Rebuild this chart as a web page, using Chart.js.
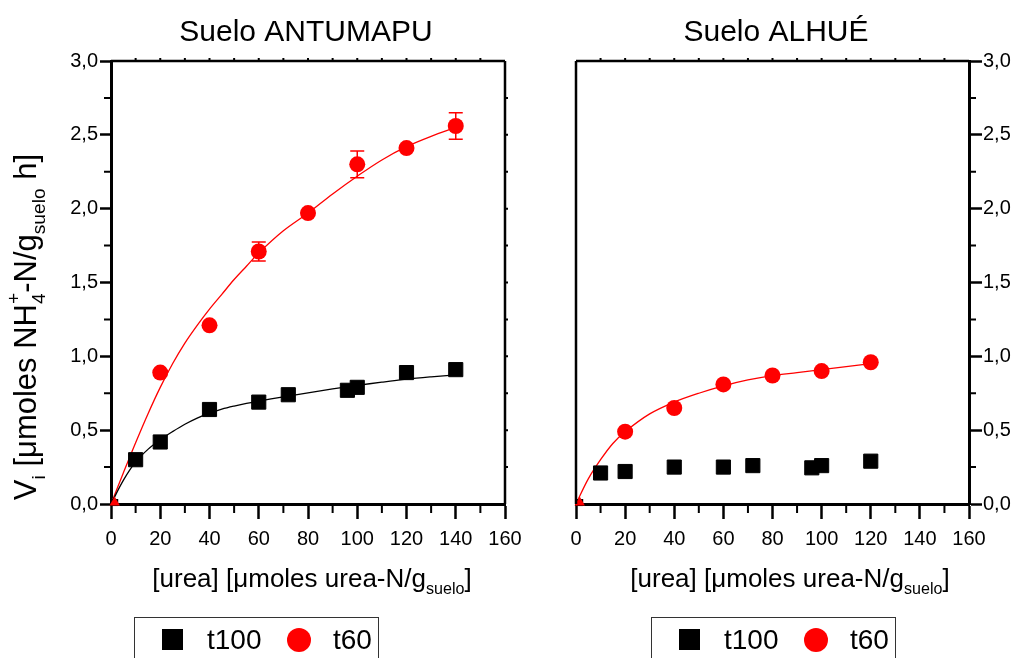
<!DOCTYPE html>
<html><head><meta charset="utf-8">
<script src="https://cdn.jsdelivr.net/npm/chart.js@4.4.1/dist/chart.umd.min.js"></script>
<style>
html,body{margin:0;padding:0;background:#fff;width:1015px;height:658px;overflow:hidden}
canvas{position:absolute;top:0}
#c1{left:0}
#c2{left:545px}
</style></head><body>
<canvas id="c1" width="545" height="658"></canvas>
<canvas id="c2" width="470" height="658"></canvas>
<script>
// ---------- data ----------
const panelTitles = ['Suelo ANTUMAPU', 'Suelo ALHUÉ'];
const seriesNames = ['t100', 't60'];
const xMin = 0, xMax = 160, xStep = 20;
const yMin = 0, yMax = 3, yStep = 0.5;

// Suelo ANTUMAPU
const antUreaT100 = [10, 20, 40, 60, 72, 96, 100, 120, 140];
const antVT100    = [0.30, 0.42, 0.64, 0.69, 0.74, 0.77, 0.79, 0.89, 0.91];
const antUreaT60  = [20, 40, 60, 80, 100, 120, 140];
const antVT60     = [0.89, 1.21, 1.71, 1.97, 2.30, 2.41, 2.56];
const antErrT60   = [0, 0, 0.065, 0, 0.09, 0, 0.09];
const antFitUrea  = [0, 5, 10, 15, 20, 25, 30, 35, 40, 45, 50, 55, 60, 70, 80, 90, 100, 110, 120, 130, 140];
const antFitT100  = [0, 0.16, 0.285, 0.37, 0.435, 0.49, 0.54, 0.582, 0.615, 0.642, 0.663, 0.681, 0.697, 0.726, 0.753, 0.779, 0.803, 0.825, 0.845, 0.861, 0.875];
const antFitT60   = [0, 0.21, 0.415, 0.61, 0.79, 0.95, 1.09, 1.21, 1.32, 1.42, 1.52, 1.61, 1.70, 1.85, 1.97, 2.10, 2.22, 2.33, 2.42, 2.49, 2.55];

// Suelo ALHUÉ
const alhUreaT100 = [10, 20, 40, 60, 72, 96, 100, 120];
const alhVT100    = [0.21, 0.22, 0.25, 0.25, 0.26, 0.245, 0.26, 0.29];
const alhUreaT60  = [20, 40, 60, 80, 100, 120];
const alhVT60     = [0.49, 0.65, 0.81, 0.87, 0.90, 0.96];
const alhFitUrea  = [0, 5, 10, 15, 20, 30, 40, 50, 60, 70, 80, 90, 100, 110, 120];
const alhFitT60   = [0, 0.17, 0.30, 0.41, 0.49, 0.61, 0.69, 0.75, 0.80, 0.84, 0.87, 0.89, 0.91, 0.93, 0.95];

// origin markers
const originUrea = [1.5];
const originV    = [0.01];

// ---------- helpers ----------
const FAM = '"Liberation Sans", Arial, sans-serif';
const RED = '#ff0000';
const zip = (xs, ys) => xs.map((x, i) => ({x, y: ys[i]}));

function layoutRich(ctx, parts, size) {
  let x = 0, prevStart = 0, prevW = 0; const items = [];
  for (const [t, k, ov] of parts) {
    const fs = k ? size * 0.62 : size;
    ctx.font = `${fs}px ${FAM}`;
    const w = ctx.measureText(t).width;
    const sx = ov ? prevStart : x;
    const dy = k === 1 ? size * 0.28 : k === 2 ? -size * 0.52 : 0;
    items.push({t, fs, sx, dy});
    if (ov) { x = prevStart + Math.max(prevW, w); }
    else { prevStart = x; prevW = w; x += w; }
  }
  return {items, width: x};
}
function drawRich(ctx, parts, size, cx, baseY) {
  const L = layoutRich(ctx, parts, size);
  const x0 = cx - L.width / 2;
  ctx.textAlign = 'left'; ctx.textBaseline = 'alphabetic'; ctx.fillStyle = '#000';
  for (const it of L.items) {
    ctx.font = `${it.fs}px ${FAM}`;
    ctx.fillText(it.t, x0 + it.sx, baseY + it.dy);
  }
}

const xTitleParts = [['[urea] [μmoles urea-N/g', 0], ['suelo', 1], [']', 0]];
const yTitleParts = [['V', 0], ['i', 1], [' [μmoles NH', 0], ['4', 1], ['+', 2, true], ['-N/g', 0], ['suelo', 1], [' h]', 0]];

const decoPlugin = {
  id: 'deco',
  afterDatasetsDraw(chart, args, o) {
    const {ctx, scales: {x, y}} = chart;
    ctx.save();
    ctx.strokeStyle = RED; ctx.lineWidth = 1.5;
    for (const e of o.errors) {
      if (!e.e) continue;
      const px = x.getPixelForValue(e.x);
      const p1 = y.getPixelForValue(e.y + e.e), p2 = y.getPixelForValue(e.y - e.e);
      ctx.beginPath();
      ctx.moveTo(px, p1); ctx.lineTo(px, p2);
      ctx.moveTo(px - 7, p1); ctx.lineTo(px + 7, p1);
      ctx.moveTo(px - 7, p2); ctx.lineTo(px + 7, p2);
      ctx.stroke();
    }
    ctx.restore();
  },
  afterDraw(chart, args, o) {
    const {ctx, chartArea: a, scales: {x, y}} = chart;
    ctx.save();
    ctx.strokeStyle = '#000';
    // frame
    ctx.lineWidth = 2.5;
    ctx.beginPath();
    ctx.moveTo(a.left, a.top); ctx.lineTo(a.right, a.top);
    if (o.side === 'left') { ctx.moveTo(a.right, a.top); ctx.lineTo(a.right, a.bottom); }
    else { ctx.moveTo(a.left, a.top); ctx.lineTo(a.left, a.bottom); }
    ctx.stroke();
    // minor x ticks (bottom) and small top ticks
    ctx.lineWidth = 2;
    ctx.beginPath();
    for (let v = xMin + xStep / 2; v < xMax; v += xStep) {
      const px = x.getPixelForValue(v);
      ctx.moveTo(px, a.bottom); ctx.lineTo(px, a.bottom + 9);
    }
    for (let v = xMin + xStep / 2; v < xMax; v += xStep / 2) {
      const px = x.getPixelForValue(v);
      ctx.moveTo(px, a.top); ctx.lineTo(px, a.top - 3);
    }
    // minor y ticks
    for (let v = yMin + yStep / 2; v < yMax; v += yStep) {
      const py = y.getPixelForValue(v);
      if (o.side === 'left') { ctx.moveTo(a.left, py); ctx.lineTo(a.left - 7, py); }
      else { ctx.moveTo(a.right, py); ctx.lineTo(a.right + 7, py); }
    }
    if (o.side === 'left') {
      for (let v = yMin + yStep / 2; v < yMax; v += yStep / 2) {
        const py = y.getPixelForValue(v);
        ctx.moveTo(a.right, py); ctx.lineTo(a.right + 3, py);
      }
    }
    ctx.stroke();
    // titles
    ctx.fillStyle = '#000'; ctx.textBaseline = 'alphabetic'; ctx.textAlign = 'center';
    ctx.font = `30px ${FAM}`;
    ctx.fillText(o.title, o.titleX, 41);
    drawRich(ctx, xTitleParts, 26, o.xTitleX, 587);
    if (o.yTitle) {
      ctx.save();
      ctx.translate(36, 327);
      ctx.rotate(-Math.PI / 2);
      drawRich(ctx, yTitleParts, 31, 0, 0);
      ctx.restore();
    }
    // legend box
    const lx = o.legendX, ly = 617;
    ctx.lineWidth = 1; ctx.strokeStyle = '#333';
    ctx.strokeRect(lx + 0.5, ly + 0.5, 244, 60);
    ctx.fillStyle = '#000';
    ctx.fillRect(lx + 28, ly + 12, 21, 21);
    ctx.font = `28px ${FAM}`; ctx.textAlign = 'left';
    ctx.fillText(seriesNames[0], lx + 73, ly + 32);
    ctx.fillStyle = RED;
    ctx.beginPath(); ctx.arc(lx + 165, ly + 23, 12, 0, Math.PI * 2); ctx.fill();
    ctx.fillStyle = '#000';
    ctx.fillText(seriesNames[1], lx + 199, ly + 32);
    ctx.restore();
  }
};

function tickY(v) { return v.toFixed(1).replace('.', ','); }

function makePanel(id, cfg) {
  const datasets = [
    {label: 'origin', data: zip(originUrea, originV), pointStyle: 'triangle', pointRadius: 6,
     backgroundColor: RED, borderColor: RED, borderWidth: 0, showLine: false, clip: false, order: 0},
    {label: 'origin0', data: zip(originUrea, originV), pointStyle: 'rect', pointRadius: 5,
     backgroundColor: '#000', borderColor: '#000', borderWidth: 0, showLine: false, clip: false, order: 1},
    {label: seriesNames[1], data: cfg.t60, pointStyle: 'circle', pointRadius: 8,
     backgroundColor: RED, borderColor: RED, borderWidth: 0, showLine: false, clip: false, order: 2},
    {label: seriesNames[0], data: cfg.t100, pointStyle: 'rect', pointRadius: 10,
     backgroundColor: '#000', borderColor: '#000', borderWidth: 1, showLine: false, clip: false, order: 3},
  ];
  cfg.fits.forEach((f, i) => datasets.push({
    label: 'fit' + i, data: f.data, showLine: true, pointRadius: 0, borderColor: f.color,
    borderWidth: 1.3, tension: 0.35, fill: false, order: 10 + i
  }));
  return new Chart(document.getElementById(id), {
    type: 'scatter',
    data: {datasets},
    plugins: [decoPlugin],
    options: {
      responsive: false, animation: false, events: [],
      layout: {padding: cfg.padding},
      plugins: {legend: {display: false}, tooltip: {enabled: false}, title: {display: false},
        deco: cfg.deco},
      scales: {
        x: {type: 'linear', position: 'bottom', min: xMin, max: xMax,
          afterFit: s => { s.height = 154; },
          ticks: {stepSize: xStep, autoSkip: false, maxRotation: 0, padding: 8, color: '#000',
            font: {family: FAM, size: 20}, callback: v => String(v)},
          grid: {drawOnChartArea: false, drawTicks: true, tickLength: 15, tickWidth: 2.5, tickColor: '#000'},
          border: {display: true, width: 3, color: '#000'}},
        y: {type: 'linear', position: cfg.yPos, min: yMin, max: yMax,
          afterFit: s => { s.width = cfg.yWidth; },
          ticks: {stepSize: yStep, autoSkip: false, padding: cfg.yPad, color: '#000',
            font: {family: FAM, size: 20}, callback: v => tickY(v)},
          grid: {drawOnChartArea: false, drawTicks: true, tickLength: cfg.yTick, tickWidth: 2.5, tickColor: '#000'},
          border: {display: true, width: 3, color: '#000'}}
      }
    }
  });
}

makePanel('c1', {
  t100: zip(antUreaT100, antVT100),
  t60: zip(antUreaT60, antVT60),
  fits: [{data: zip(antFitUrea, antFitT100), color: '#000'}, {data: zip(antFitUrea, antFitT60), color: RED}],
  padding: {left: 0, top: 61, right: 40, bottom: 0},
  yPos: 'left', yWidth: 111, yPad: 2, yTick: 11,
  deco: {side: 'left', title: panelTitles[0], titleX: 306, xTitleX: 312, yTitle: true, legendX: 134,
    errors: antUreaT60.map((u, i) => ({x: u, y: antVT60[i], e: antErrT60[i]}))}
});
makePanel('c2', {
  t100: zip(alhUreaT100, alhVT100),
  t60: zip(alhUreaT60, alhVT60),
  fits: [{data: zip(alhFitUrea, alhFitT60), color: RED}],
  padding: {left: 31, top: 61, right: 0, bottom: 0},
  yPos: 'right', yWidth: 46, yPad: 1, yTick: 13,
  deco: {side: 'right', title: panelTitles[1], titleX: 776 - 545, xTitleX: 790 - 545, yTitle: false, legendX: 651 - 545,
    errors: []}
});
</script>
</body></html>
